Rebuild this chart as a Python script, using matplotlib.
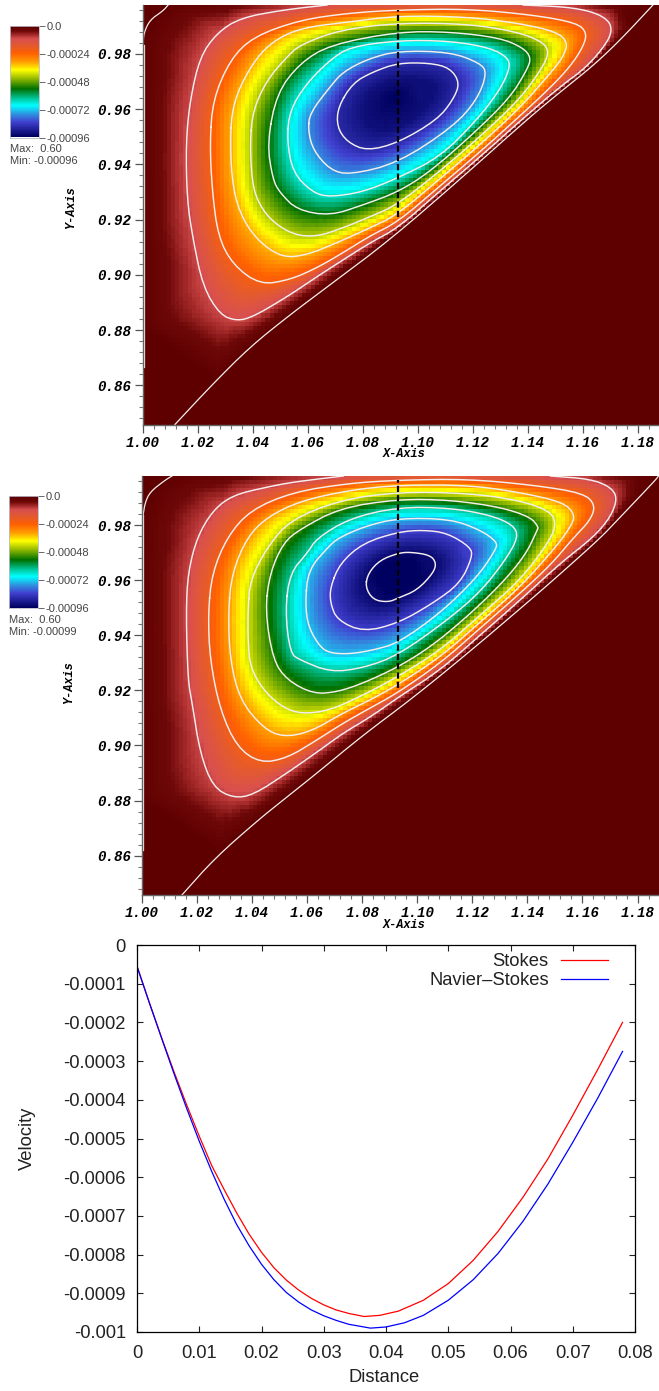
import numpy as np
import matplotlib
matplotlib.use('Agg')
import matplotlib.pyplot as plt
from matplotlib.colors import LinearSegmentedColormap
from matplotlib.ticker import MultipleLocator
from matplotlib.tri import Triangulation, LinearTriInterpolator

W, H = 659, 1391

# contour rings (Stokes), x is 1.0 + value
a_r1 = [(.0671,.9977),(.0511,.9959),(.0355,.9930),(.0271,.9876),(.0209,.9789),(.0173,.9633),(.0158,.9478),(.0162,.9271),
        (.0184,.9127),(.0220,.8957),(.0282,.8855),(.0344,.8833),(.0402,.8848),(.0525,.8920),(.0634,.8993),(.0729,.9054),
        (.0827,.9116),(.0929,.9170),(.1082,.9304),(.1227,.9427),(.1373,.9557),(.1518,.9681),(.1616,.9753),(.1689,.9840),
        (.1707,.9887),(.1693,.9923),(.1638,.9952),(.1543,.9970),(.1384,.9977)]
a_r2 = [(.0245,.9478),(.0256,.9633),(.0318,.9778),(.0402,.9862),(.0573,.9923),(.0754,.9948),(.0929,.9959),(.1180,.9963),
        (.1420,.9941),(.1580,.9912),(.1616,.9876),(.1602,.9825),(.1554,.9753),(.1482,.9677),(.1373,.9576),(.1227,.9445),
        (.1082,.9322),(.0929,.9192),(.0827,.9141),(.0729,.9080),(.0634,.9025),(.0536,.8982),(.0427,.8964),(.0329,.9036),
        (.0275,.9138),(.0253,.9308)]
a_r3 = [(.0318,.9478),(.0329,.9623),(.0391,.9753),(.0464,.9840),(.0573,.9894),(.0754,.9916),(.0929,.9938),(.1180,.9934),
        (.1362,.9912),(.1507,.9880),(.1547,.9840),(.1529,.9789),(.1493,.9742),(.1373,.9605),(.1227,.9471),(.1082,.9348),
        (.0925,.9217),(.0827,.9170),(.0707,.9116),(.0598,.9072),(.0511,.9062),(.0427,.9116),(.0365,.9199),(.0329,.9308)]
a_r4 = [(.0391,.9478),(.0402,.9597),(.0453,.9706),(.0525,.9789),(.0573,.9833),(.0718,.9887),(.0929,.9912),(.1180,.9909),
        (.1362,.9880),(.1456,.9843),(.1478,.9807),(.1456,.9753),(.1373,.9637),(.1227,.9500),(.1082,.9376),(.0925,.9253),
        (.0827,.9210),(.0729,.9170),(.0634,.9138),(.0547,.9145),(.0464,.9199),(.0416,.9271),(.0398,.9344)]
a_r5 = [(.0453,.9478),(.0489,.9659),(.0573,.9767),(.0682,.9833),(.0929,.9880),(.1118,.9880),(.1300,.9858),(.1384,.9822),
        (.1413,.9786),(.1398,.9742),(.1336,.9641),(.1202,.9510),(.1045,.9373),(.0929,.9300),(.0802,.9253),(.0682,.9214),
        (.0562,.9235),(.0500,.9297),(.0474,.9344)]
a_r6 = [(.0525,.9489),(.0536,.9597),(.0598,.9695),(.0682,.9778),(.0754,.9825),(.0929,.9849),(.1118,.9847),(.1264,.9822),
        (.1329,.9786),(.1336,.9749),(.1300,.9670),(.1216,.9561),(.1082,.9427),(.0929,.9351),(.0802,.9300),(.0682,.9282),
        (.0620,.9297),(.0547,.9369)]
a_r7 = [(.0602,.9525),(.0609,.9586),(.0682,.9681),(.0729,.9735),(.0820,.9782),(.0929,.9811),(.1118,.9807),(.1227,.9767),
        (.1253,.9731),(.1216,.9633),(.1129,.9536),(.0929,.9405),(.0754,.9362),(.0682,.9380),(.0620,.9452)]
a_r8 = [(.0711,.9608),(.0765,.9695),(.0838,.9735),(.0929,.9767),(.1045,.9767),(.1118,.9749),(.1154,.9695),(.1129,.9633),
        (.1071,.9561),(.0929,.9478),(.0816,.9449),(.0744,.9481),(.0707,.9536)]
a_levels = [-.00011, -.00022, -.00033, -.00044, -.00055, -.00066, -.00077, -.00088]
a_centre = (.0918, .9644, -.00096)
# edge of the navy core, only shades the field, no line there
a_core = [(.0791,.9597),(.0845,.9677),(.0936,.9713),(.1027,.9706),(.1071,.9670),(.1027,.9597),(.0936,.9532),(.0845,.9514)]
a_core_v = -.00093
a_corner = [(.0093,.9977),(.0075,.9956),(.0027,.9923),(.0005,.9876),(.0002,.9833)]
a_diag = [(.0118,.8458),(.0253,.8602),(.0391,.8739),(.0536,.8855),(.0682,.8964),(.0900,.9127),(.1165,.9355),(.1409,.9572),
          (.1529,.9670),(.1638,.9757),(.1736,.9849),(.1856,.9977)]
a_top_x = [.0318, .0511, .0929, .1180, .1554, .1627, .1736]
a_top_v = [-.00003, -.00008, -.00012, -.00012, -.00009, -.00006, -.00002]

# same for the lower picture (Navier-Stokes)
b_r1 = [(.0731,.9978),(.0549,.9956),(.0455,.9938),(.0331,.9909),(.0258,.9854),(.0200,.9756),(.0167,.9626),(.0160,.9481),
        (.0167,.9237),(.0182,.9154),(.0211,.8972),(.0258,.8849),(.0331,.8809),(.0404,.8820),(.0527,.8900),(.0636,.8976),
        (.0731,.9045),(.0829,.9103),(.0927,.9172),(.1084,.9274),(.1229,.9401),(.1374,.9528),(.1520,.9662),(.1640,.9756),
        (.1702,.9829),(.1727,.9898),(.1702,.9938),(.1629,.9967),(.1484,.9978)]
b_r2 = [(.0240,.9481),(.0255,.9626),(.0309,.9756),(.0393,.9854),(.0549,.9920),(.0756,.9952),(.0931,.9963),(.1182,.9967),
        (.1422,.9945),(.1603,.9916),(.1647,.9873),(.1629,.9818),(.1567,.9753),(.1484,.9655),(.1374,.9553),(.1229,.9426),
        (.1084,.9299),(.0927,.9190),(.0829,.9136),(.0731,.9081),(.0636,.9020),(.0527,.8954),(.0429,.8936),(.0345,.8994),
        (.0284,.9128),(.0247,.9310)]
b_r3 = [(.0313,.9481),(.0327,.9626),(.0382,.9756),(.0455,.9829),(.0574,.9887),(.0756,.9927),(.0931,.9945),(.1182,.9945),
        (.1364,.9920),(.1531,.9883),(.1574,.9836),(.1556,.9793),(.1509,.9727),(.1374,.9575),(.1229,.9448),(.1084,.9321),
        (.0927,.9219),(.0829,.9165),(.0731,.9118),(.0611,.9049),(.0513,.9030),(.0440,.9063),(.0356,.9165),(.0320,.9310)]
b_r4 = [(.0385,.9491),(.0393,.9600),(.0455,.9720),(.0538,.9818),(.0720,.9891),(.0931,.9920),(.1182,.9916),(.1364,.9891),
        (.1476,.9854),(.1505,.9811),(.1484,.9746),(.1374,.9600),(.1229,.9473),(.1084,.9346),(.0927,.9248),(.0804,.9183),
        (.0684,.9128),(.0585,.9114),(.0513,.9136),(.0440,.9201),(.0393,.9285),(.0385,.9383)]
b_r5 = [(.0447,.9491),(.0465,.9626),(.0513,.9735),(.0574,.9785),(.0720,.9862),(.0931,.9894),(.1120,.9891),(.1302,.9865),
        (.1411,.9829),(.1440,.9793),(.1436,.9782),(.1393,.9691),(.1302,.9582),(.1167,.9455),(.1047,.9357),(.0931,.9285),
        (.0804,.9226),(.0709,.9194),(.0622,.9187),(.0527,.9237),(.0476,.9310)]
b_r6 = [(.0520,.9491),(.0538,.9626),(.0600,.9698),(.0636,.9753),(.0756,.9825),(.0931,.9865),(.1120,.9862),(.1265,.9836),
        (.1349,.9800),(.1367,.9756),(.1320,.9673),(.1229,.9557),(.1109,.9455),(.0931,.9328),(.0804,.9281),(.0684,.9266),
        (.0574,.9310),(.0538,.9335)]
b_r7 = [(.0593,.9517),(.0604,.9637),(.0676,.9720),(.0713,.9753),(.0811,.9796),(.0931,.9825),(.1120,.9822),(.1229,.9782),
        (.1291,.9738),(.1284,.9709),(.1218,.9611),(.1084,.9481),(.0931,.9372),(.0840,.9346),(.0756,.9332),(.0684,.9335),
        (.0647,.9357),(.0604,.9430)]
b_r8 = [(.0684,.9575),(.0720,.9662),(.0804,.9735),(.0931,.9775),(.1022,.9782),(.1109,.9771),(.1193,.9720),(.1200,.9684),
        (.1156,.9589),(.1058,.9517),(.0931,.9444),(.0804,.9412),(.0709,.9455),(.0684,.9517)]
b_r9 = [(.0811,.9575),(.0822,.9626),(.0865,.9673),(.0931,.9698),(.0974,.9702),(.1047,.9691),(.1069,.9662),(.1058,.9626),
        (.1000,.9564),(.0931,.9535),(.0895,.9520),(.0840,.9528)]
b_levels = [-.000105, -.00021, -.000315, -.00042, -.000525, -.00063, -.000735, -.00084, -.000945]
b_centre = (.0938, .9618, -.00099)
b_corner = [(.0109,.9978),(.0084,.9963),(.0029,.9920),(.0011,.9880),(.0004,.9836)]
b_diag = [(.0145,.8457),(.0265,.8591),(.0422,.8729),(.0513,.8802),(.0636,.8900),(.0804,.9038),(.0974,.9165),(.1167,.9321),
          (.1411,.9528),(.1531,.9633),(.1665,.9753),(.1727,.9818),(.1865,.9963),(.1876,.9978)]
b_top_x = [.0320, .0549, .0931, .1182, .1610, .1665, .1793]
b_top_v = [-.00003, -.00008, -.00012, -.00012, -.00009, -.00006, -.00002]

# line plot
stokes_d = [0, .002, .004, .006, .008, .010, .012, .014, .016, .018, .020, .022, .024, .026, .028, .030, .032, .034, .0365,
            .039, .042, .046, .050, .054, .058, .062, .066, .070, .074, .078]
stokes_v = [-.000055, -.00015, -.000242, -.00033, -.000414, -.000494, -.00057, -.000632, -.000692, -.000747, -.000794, -.000834,
            -.000866, -.000892, -.000913, -.00093, -.000943, -.000952, -.00096,
            -.000957, -.000946, -.000918, -.000875, -.000815, -.00074, -.000652, -.000553, -.00044, -.000322, -.0002]
ns_d = [0, .002, .004, .006, .008, .010, .012, .014, .016, .018, .020, .022, .024, .026, .028, .030, .032, .034, .0375,
        .040, .043, .046, .050, .054, .058, .062, .066, .070, .074, .078]
ns_v = [-.000055, -.00015, -.000243, -.000335, -.000423, -.000507, -.000585, -.000657, -.000722, -.000777, -.000825, -.000865,
        -.000898, -.000923, -.000943, -.000958, -.00097, -.00098, -.00099,
        -.000987, -.000976, -.000957, -.000918, -.000865, -.000797, -.000714, -.000618, -.00051, -.000396, -.000275]

cbar_ticks = [0.0, -.00024, -.00048, -.00072, -.00096]
cbar_labels = ['0.0', '-0.00024', '-0.00048', '-0.00072', '-0.00096']

stops = [(0, '#5f0000'), (.05, '#6e0808'), (.085, '#a52a2a'), (.12, '#d84f4f'), (.18, '#e35a30'), (.25, '#ff6000'), (.33, '#ffa000'),
         (.40, '#ffff00'), (.47, '#a0c000'), (.57, '#007000'), (.65, '#00c090'), (.72, '#00ffff'), (.80, '#3090e0'), (.87, '#4040d0'),
         (1, '#000060')]
vel_cmap = LinearSegmentedColormap.from_list('vel', [(p, c) for p, c in stops])
vel_cmap = vel_cmap.reversed()  # top of the bar is zero

MONO = {'family': 'Liberation Mono', 'weight': 'bold', 'style': 'italic'}
SANS = ['Liberation Sans', 'DejaVu Sans']

fig = plt.figure(figsize=(W / 100, H / 100), dpi=100)


def px_axes(l, t, r, b):
    return fig.add_axes([l / W, 1 - b / H, (r - l) / W, (b - t) / H])


def chaikin(pts, closed, n=2):
    # rounds the corners of the read polylines, the originals are smooth curves
    p = np.array(pts, dtype=float)
    for _ in range(n):
        if closed:
            q = np.roll(p, -1, axis=0)
            p = np.column_stack([.75 * p + .25 * q, .25 * p + .75 * q]).reshape(-1, 2)
        else:
            a, b = p[:-1], p[1:]
            mid = np.column_stack([.75 * a + .25 * b, .25 * a + .75 * b]).reshape(-1, 2)
            p = np.vstack([p[:1], mid, p[-1:]])
    return p


def field_panel(rect, rings, levels, centre, corner, diag, top_x, top_v, ylim, wall_end, dash_top, core=None, core_v=0):
    ax = px_axes(*rect)
    x1 = 0.1878
    xs, ys, vs = [], [], []
    lines = []
    for i, (ring, lev) in enumerate(zip(rings, levels)):
        pts = chaikin(ring, closed=i > 0)
        if i > 0:
            pts_draw = np.vstack([pts, pts[:1]])
        else:
            pts_draw = pts
        lines.append(pts_draw)
        xs += list(pts[:, 0]); ys += list(pts[:, 1]); vs += [lev] * len(pts)
    if core is not None:
        pts = chaikin(core, True)
        xs += list(pts[:, 0]); ys += list(pts[:, 1]); vs += [core_v] * len(pts)
    c = chaikin(corner, False)
    d = chaikin(diag, False)
    for p in (c, d):
        xs += list(p[:, 0]); ys += list(p[:, 1]); vs += [0.0] * len(p)
    # walls and the area under the diagonal
    for yy in [ylim[1], .97, .94, .91, .88, ylim[0]]:
        xs.append(0.0); ys.append(yy); vs.append(0.0)
    for xx, yy in [(x1, ylim[0]), (x1, ylim[1]), (x1, .92), (.1, ylim[0])]:
        xs.append(xx); ys.append(yy); vs.append(0.0)
    xs += list(top_x); ys += [ylim[1]] * len(top_x); vs += list(top_v)
    xs.append(centre[0]); ys.append(centre[1]); vs.append(centre[2])

    tri = Triangulation(np.array(xs), np.array(ys))
    interp = LinearTriInterpolator(tri, np.array(vs))
    xe = np.linspace(0, x1, 127)
    ye = np.linspace(ylim[0], ylim[1], 103)
    xc, yc = np.meshgrid((xe[:-1] + xe[1:]) / 2, (ye[:-1] + ye[1:]) / 2)
    zz = np.ma.filled(interp(xc, yc), 0.0)
    ax.pcolormesh(1 + xe, ye, zz, cmap=vel_cmap, vmin=-.00096, vmax=0, rasterized=True)

    for pts in lines:
        ax.plot(1 + pts[:, 0], pts[:, 1], color='#f4eeee', lw=1.05)
    ax.plot(1 + c[:, 0], c[:, 1], color='#f4eeee', lw=.9)
    ax.plot(1 + d[:, 0], d[:, 1], color='#f4eeee', lw=.9)
    ax.plot([1.0004, 1.0004], [c[-1, 1], wall_end], color='#f4eeee', lw=.9)
    ax.plot([1.0929, 1.0929], [.921, dash_top], color='black', lw=1.6, dashes=(2.8, 1.4))

    ax.set_xlim(1, 1 + x1)
    ax.set_ylim(*ylim)
    for s in ['top', 'right']:
        ax.spines[s].set_visible(False)
    for s in ['left', 'bottom']:
        ax.spines[s].set_color('#666666')
        ax.spines[s].set_linewidth(1.0)
    ax.xaxis.set_major_locator(MultipleLocator(.02))
    ax.xaxis.set_minor_locator(MultipleLocator(.004))
    ax.yaxis.set_major_locator(MultipleLocator(.02))
    ax.yaxis.set_minor_locator(MultipleLocator(.004))
    ax.xaxis.set_major_formatter('{x:.2f}')
    ax.yaxis.set_major_formatter('{x:.2f}')
    ax.tick_params(which='major', length=6, width=.9, color='#555555', pad=2)
    ax.tick_params(which='minor', length=3, width=.8, color='#777777')
    for t in ax.get_xticklabels() + ax.get_yticklabels():
        t.set_fontfamily(MONO['family'])
        t.set_fontweight('bold')
        t.set_fontstyle('italic')
        t.set_fontsize(10.2)
    return ax


def color_bar(l, t, r, b, min_text):
    ax = px_axes(l, t, r, b)
    grad = np.linspace(-.00096, 0, 200).reshape(-1, 1)
    ax.imshow(grad, origin='lower', aspect='auto', cmap=vel_cmap, extent=[0, 1, -.00096, 0], vmin=-.00096, vmax=0)
    ax.set_xticks([])
    ax.yaxis.tick_right()
    ax.set_yticks(cbar_ticks)
    ax.set_yticklabels(cbar_labels, family=SANS, fontsize=8, color='#444444')
    ax.tick_params(axis='y', length=4.5, width=.7, color='#666666', pad=1)
    for s in ax.spines.values():
        s.set_color('#bbbbcc')
        s.set_linewidth(.6)
    fig.text(l / W, 1 - (b + 12) / H, 'Max:  0.60', family=SANS, fontsize=8, color='#444444', va='center')
    fig.text(l / W, 1 - (b + 24) / H, 'Min: ' + min_text, family=SANS, fontsize=8, color='#444444', va='center')


field_panel((142.5, 5, 659, 424.5), [a_r1, a_r2, a_r3, a_r4, a_r5, a_r6, a_r7, a_r8], a_levels, a_centre, a_corner, a_diag,
            a_top_x, a_top_v, (.8458, .9977), .8667, .996, core=a_core, core_v=a_core_v)
field_panel((142, 476, 659, 895), [b_r1, b_r2, b_r3, b_r4, b_r5, b_r6, b_r7, b_r8, b_r9], b_levels, b_centre, b_corner, b_diag,
            b_top_x, b_top_v, (.8457, .9978), .862, .9963)
color_bar(10, 26, 39, 137.5, '-0.00096')
color_bar(9, 496, 38, 608, '-0.00099')

for tx, ty in [(404, 453.5), (404, 924.5)]:
    fig.text(tx / W, 1 - ty / H, 'X-Axis', fontsize=8.6, ha='center', va='center', **MONO)
for tx, ty in [(71, 208), (69, 683)]:
    fig.text(tx / W, 1 - ty / H, 'Y-Axis', fontsize=8.6, ha='center', va='center', rotation=90, **MONO)

# velocity profile along the dashed line
ax3 = px_axes(137, 945, 635, 1332)
ax3.plot(stokes_d, stokes_v, color='#ff0000', lw=.9, label='Stokes')
ax3.plot(ns_d, ns_v, color='#0000ff', lw=.9, label='Navier\u2013Stokes')
ax3.set_xlim(0, .08)
ax3.set_ylim(-.001, 0)
ax3.set_xticks(np.arange(0, .081, .01))
ax3.set_xticklabels(['0', '0.01', '0.02', '0.03', '0.04', '0.05', '0.06', '0.07', '0.08'], family=SANS, fontsize=13.2)
ax3.set_yticks(np.arange(-.001, .00001, .0001))
ax3.set_yticklabels(['-0.001', '-0.0009', '-0.0008', '-0.0007', '-0.0006', '-0.0005', '-0.0004', '-0.0003', '-0.0002', '-0.0001', '0'],
                    family=SANS, fontsize=13.2)
ax3.tick_params(direction='in', top=True, right=True, length=4.5, width=.8, color='#222222', labelcolor='#222222')
ax3.tick_params(axis='y', pad=8)
ax3.tick_params(axis='x', pad=9)
for s in ax3.spines.values():
    s.set_linewidth(.9)
fig.text(384 / W, 1 - 1378 / H, 'Distance', family=SANS, fontsize=13.2, ha='center', va='center', color='#222222')
fig.text(27 / W, 1 - 1138 / H, 'Velocity', family=SANS, fontsize=13.2, ha='center', va='center', rotation=90, color='#222222')
leg = ax3.legend(loc='upper right', bbox_to_anchor=(.965, 1.003), frameon=False, markerfirst=False, handlelength=2.6,
                 handletextpad=.65, labelspacing=.12, borderpad=0, prop={'family': SANS, 'size': 13.2})
for t in leg.get_texts():
    t.set_color('#222222')

plt.savefig('out.png', dpi=100)
